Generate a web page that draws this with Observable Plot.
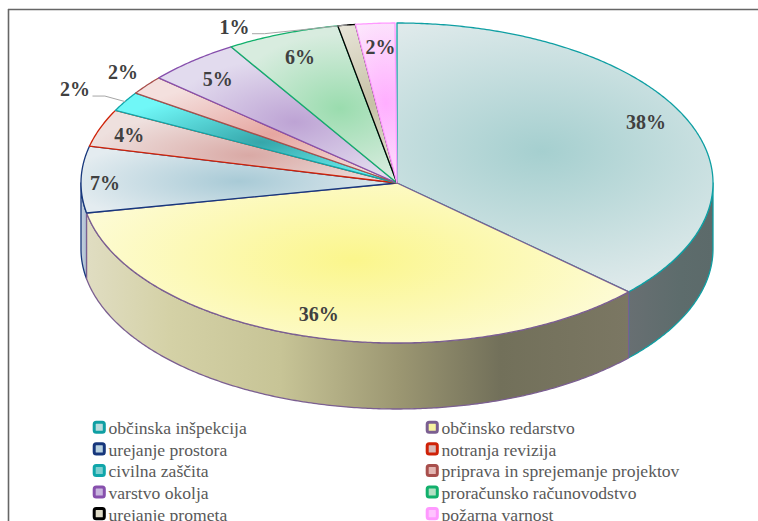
<!DOCTYPE html>
<html><head><meta charset="utf-8">
<script src="https://cdn.jsdelivr.net/npm/d3@7"></script>
<script src="https://cdn.jsdelivr.net/npm/@observablehq/plot@0.6"></script>
<style>html,body{margin:0;padding:0;background:#fff;overflow:hidden}svg{display:block}</style>
</head><body>
<div id="chart"></div>
<script>
// Data, clockwise from 12 o'clock
const categories = ["občinska inšpekcija","občinsko redarstvo","urejanje prostora","notranja revizija","civilna zaščita","priprava in sprejemanje projektov","varstvo okolja","proračunsko računovodstvo","urejanje prometa","požarna varnost"];
const labels = ["38%","36%","7%","4%","2%","2%","5%","6%","1%","2%"];
// shares as drawn on the tilted pie (percent of the turn, read from the rim)
const shares = [36.9,35.1,6.7,3.8,2.0,1.9,4.8,5.8,0.9,2.0];
// Styles
const strokes = ["#0f9fa3","#7b5f91","#17377c","#cf2208","#10a6aa","#a84f4c","#8750ad","#12b06c","#000000","#ff99ff"];
const centers = ["#a5cfcf","#fbf68c","#a8cad6","#d9a9a5","#35a6aa","#e6a6a0","#bda3d4","#9adcae","#c6c1a6","#ffaeff"];
const rims    = ["#dfeaeb","#fdfbd6","#e4ecf0","#eee0de","#70f7f7","#f4e0de","#e2dbee","#d8ecdf","#e9e6da","#fce8fc"];
const gradRx  = [265,290,175,165,160,150,130,110,70,60];
const gradRy  = [145,105,45,45,50,55,65,75,90,90];
const swatchFill = ["#b9dcdd","#f8f4a0","#b9d2e0","#d9b8b6","#7fcfd0","#e3b6b2","#c8b6de","#b4e0c4","#dedac6","#ffc4ff"];
const labelRadius = [0.87,0.857,0.927,0.90,1.176,1.109,0.864,0.845,1.10,0.845];
const labelNudge  = [-2,1,-1.4,-1.1,-1,0.7,-1,-0.3,-18.9,0.2];
const leaders = [4,8];
// Layout of the tilted disc
const cx=396.5, cy=182.5, rx=316, ry=160, depth=66;
const W=758, H=521;
const rad = d=>d*Math.PI/180;
const pt = (t,r=1,dy=0)=>({x:cx+rx*r*Math.sin(rad(t)), y:cy-ry*r*Math.cos(rad(t))+dy});
const arc = (a,b,dy=0)=>{const n=Math.max(2,Math.ceil(Math.abs(b-a)/0.5)),o=[];for(let i=0;i<=n;i++)o.push(pt(a+(b-a)*i/n,1,dy));return o;};
let acc=0;
const slices = shares.map((s,i)=>{const a=acc*3.6;acc+=s;const b=acc*3.6;return {i,a,b,mid:(a+b)/2};});
const topPoly = s=>[{x:cx,y:cy},...arc(s.a,s.b),{x:cx,y:cy}];
const wallPoly = (a,b)=>{const t=arc(a,b),u=arc(a,b,depth).reverse();return [...t,...u,t[0]];};

function defs(){
  const d=d3.create("svg:defs");
  slices.forEach(s=>{
    const c=pt(s.mid,0.5);
    const g=d.append("radialGradient").attr("id","top"+s.i).attr("gradientUnits","userSpaceOnUse")
      .attr("cx",0).attr("cy",0).attr("r",1)
      .attr("gradientTransform",`translate(${c.x},${c.y}) scale(${gradRx[s.i]},${gradRy[s.i]})`);
    g.append("stop").attr("offset",0).attr("stop-color",centers[s.i]);
    g.append("stop").attr("offset",1).attr("stop-color",rims[s.i]);
  });
  const lin=(id,stops)=>{const x0=stops[0][0],x1=stops[stops.length-1][0];
    const g=d.append("linearGradient").attr("id",id).attr("gradientUnits","userSpaceOnUse").attr("x1",x0).attr("x2",x1).attr("y1",0).attr("y2",0);
    stops.forEach(([x,c])=>g.append("stop").attr("offset",(x-x0)/(x1-x0)).attr("stop-color",c));};
  lin("wall0",[[628,"#686f72"],[680,"#5d6c6c"],[713,"#5c6a6a"]]);
  lin("wall1",[[86,"#e0ddc2"],[170,"#d4d1a6"],[280,"#c7c496"],[397,"#9c9772"],[500,"#72705a"],[628,"#7b7763"]]);
  lin("wall2",[[80,"#c8d3df"],[86,"#aebfd2"]]);
  return d.node();
}

const wallMarks = [[2,slices[2].a,270],[0,90,slices[0].b],[1,slices[1].a,slices[1].b]].map(([i,a,b])=>
  Plot.line(wallPoly(a,b),{x:"x",y:"y",fill:`url(#wall${i})`,stroke:strokes[i],strokeWidth:1.3}));
const topMarks = slices.map(s=>Plot.line(topPoly(s),{x:"x",y:"y",fill:`url(#top${s.i})`,stroke:strokes[s.i],strokeWidth:1.3}));

const labelData = slices.map(s=>({...pt(s.mid+labelNudge[s.i],labelRadius[s.i]),text:labels[s.i],i:s.i}));
const leaderMarks = leaders.map(i=>{
  const l=labelData[i], e=pt(slices[i].mid,1);
  return Plot.line([{x:l.x+19,y:l.y+6},{x:l.x+31,y:l.y+6},e],{x:"x",y:"y",stroke:"#a6a6a6",strokeWidth:1,curve:"linear"});
});

const legendData = categories.map((name,i)=>({name,i,row:Math.floor(i/2),col:i%2}));
const colX=[93,426], rowY=r=>421+r*21.6;

const plot = Plot.plot({
  width:W,height:H,margin:0,
  x:{domain:[0,W],range:[0,W],axis:null},
  y:{domain:[0,H],range:[0,H],axis:null},
  style:{background:"#fff"},
  marks:[
    defs,
    Plot.ruleY([9],{x1:8,x2:W,stroke:"#666",strokeWidth:1.6}),
    Plot.ruleX([8],{y1:9,y2:H,stroke:"#666",strokeWidth:1.6}),
    ...wallMarks,
    ...topMarks,
    ...leaderMarks,
    Plot.text(labelData,{x:d=>d.x+1,y:"y",text:"text",fontFamily:"Liberation Serif",fontWeight:"bold",fontSize:20,fill:"#404040"}),
    Plot.rect(legendData,{x1:d=>colX[d.col]+1.2,x2:d=>colX[d.col]+11.3,y1:d=>rowY(d.row)+1.2,y2:d=>rowY(d.row)+11.3,fill:d=>swatchFill[d.i],stroke:d=>strokes[d.i],strokeWidth:3,rx:2}),
    Plot.text(legendData,{x:d=>colX[d.col]+15,y:d=>rowY(d.row)+7,text:"name",textAnchor:"start",fontFamily:"Liberation Serif",fontSize:17.6,fill:"#595959"})
  ]
});
document.getElementById("chart").append(plot);
</script>
</body></html>
